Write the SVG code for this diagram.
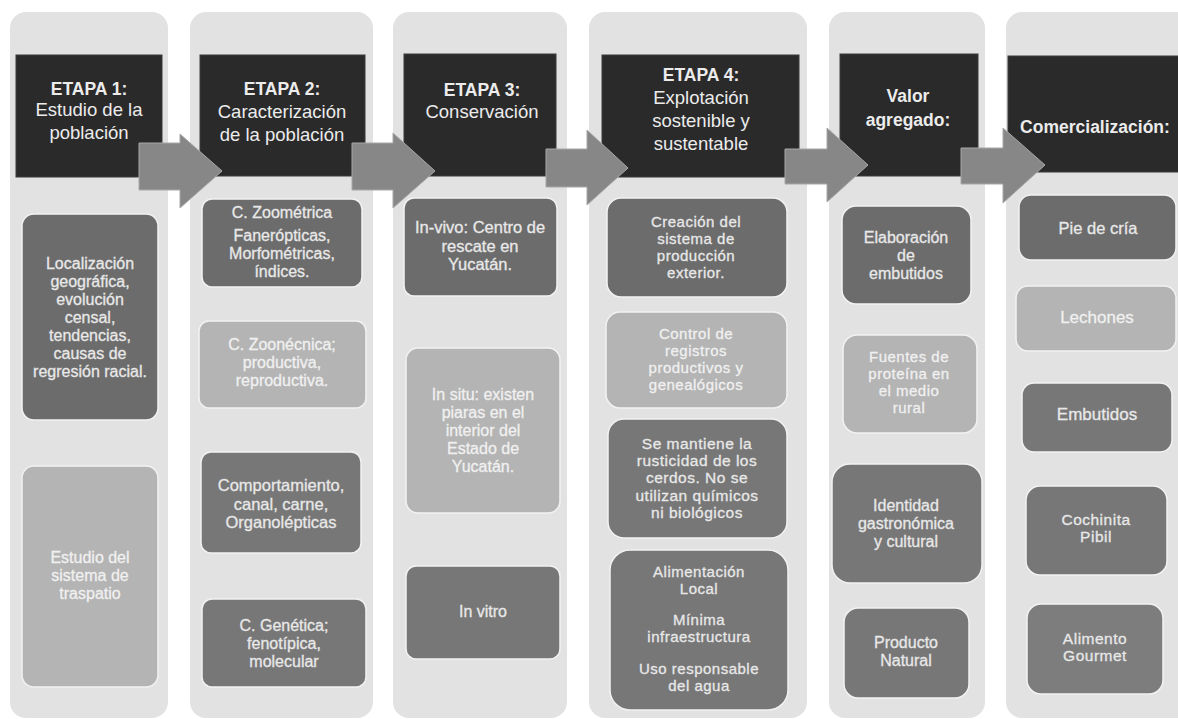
<svg xmlns="http://www.w3.org/2000/svg" width="1178" height="719" viewBox="0 0 1178 719">
<style>
.col{fill:#e2e2e2}
.hdr{fill:#2a2a2a;stroke:#3a3a3a;stroke-width:1}
.dk{fill:#6c6c6c;stroke:#f2f2f2;stroke-width:1.5}
.md{fill:#777777;stroke:#f2f2f2;stroke-width:1.5}
.lt{fill:#b4b4b4;stroke:#f2f2f2;stroke-width:1.5}
.arr{fill:#878787;stroke:#a8a8a8;stroke-width:1}
text{font-family:"Liberation Sans",Arial,sans-serif;text-anchor:middle}
.ht{fill:#ececec;font-size:18.5px}
.hb{font-weight:bold;font-size:17.5px}
.bt{fill:#e8e8e8;font-size:16px;stroke:#e8e8e8;stroke-width:0.3}
.lt2{fill:#f0f0f0;font-size:16px;stroke:#f0f0f0;stroke-width:0.3}
.ls{letter-spacing:0.5px}
</style>
<rect width="1178" height="719" fill="#ffffff"/>
<g id="columns">
<rect class="col" x="10" y="12" width="158" height="706" rx="16"/>
<rect class="col" x="190" y="12" width="183" height="706" rx="16"/>
<rect class="col" x="393" y="12" width="174" height="706" rx="16"/>
<rect class="col" x="589" y="12" width="218" height="706" rx="16"/>
<rect class="col" x="829" y="12" width="156" height="706" rx="16"/>
<rect class="col" x="1006" y="12" width="190" height="706" rx="16"/>
</g>
<g id="h1"><rect class="hdr" x="16" y="55" width="146" height="122"/>
<text class="ht" x="89" y="95"><tspan class="hb" x="89">ETAPA 1:</tspan><tspan x="89" y="116">Estudio de la</tspan><tspan x="89" y="139">población</tspan></text></g>
<g id="h2"><rect class="hdr" x="200" y="55" width="165" height="121"/>
<text class="ht" x="282" y="95"><tspan class="hb" x="282">ETAPA 2:</tspan><tspan x="282" y="118">Caracterización</tspan><tspan x="282" y="141">de la población</tspan></text></g>
<g id="h3"><rect class="hdr" x="404" y="54" width="152" height="122"/>
<text class="ht" x="482" y="96"><tspan class="hb" x="482">ETAPA 3:</tspan><tspan x="482" y="118">Conservación</tspan></text></g>
<g id="h4"><rect class="hdr" x="602" y="55" width="197" height="122"/>
<text class="ht" x="701" y="81"><tspan class="hb" x="701">ETAPA 4:</tspan><tspan x="701" y="104">Explotación</tspan><tspan x="701" y="127">sostenible y</tspan><tspan x="701" y="150">sustentable</tspan></text></g>
<g id="h5"><rect class="hdr" x="840" y="54" width="138" height="122"/>
<text class="ht hb" x="908" y="102"><tspan x="908">Valor</tspan><tspan x="908" y="126">agregado:</tspan></text></g>
<g id="h6"><rect class="hdr" x="1008" y="56" width="175" height="116"/>
<text class="ht hb" x="1095" y="133">Comercialización:</text></g>

<g id="b1a"><rect class="dk" x="22" y="214" width="136" height="206" rx="12"/>
<text class="bt" x="90" y="269"><tspan x="90">Localización</tspan><tspan x="90" dy="18">geográfica,</tspan><tspan x="90" dy="18">evolución</tspan><tspan x="90" dy="18">censal,</tspan><tspan x="90" dy="18">tendencias,</tspan><tspan x="90" dy="18">causas de</tspan><tspan x="90" dy="18">regresión racial.</tspan></text></g>
<g id="b1b"><rect class="lt" x="22" y="466" width="136" height="221" rx="12"/>
<text class="lt2" x="90" y="563"><tspan x="90">Estudio del</tspan><tspan x="90" dy="18">sistema de</tspan><tspan x="90" dy="18">traspatio</tspan></text></g>

<g id="b2a"><rect class="dk" x="202" y="199" width="160" height="88" rx="10"/>
<text class="bt" x="282" y="218"><tspan x="282">C. Zoométrica</tspan><tspan x="282" y="241">Fanerópticas,</tspan><tspan x="282" y="259">Morfométricas,</tspan><tspan x="282" y="277">índices.</tspan></text></g>
<g id="b2b"><rect class="lt" x="199" y="321" width="167" height="87" rx="10"/>
<text class="lt2" x="282" y="350"><tspan x="282">C. Zoonécnica;</tspan><tspan x="282" dy="18">productiva,</tspan><tspan x="282" dy="18">reproductiva.</tspan></text></g>
<g id="b2c"><rect class="md" x="201" y="452" width="160" height="101" rx="10"/>
<text class="bt" x="281" y="491" style="font-size:16.5px"><tspan x="281">Comportamiento,</tspan><tspan x="281" dy="18.5">canal, carne,</tspan><tspan x="281" dy="18.5">Organolépticas</tspan></text></g>
<g id="b2d"><rect class="md" x="202" y="599" width="164" height="88" rx="10"/>
<text class="bt" x="284" y="631"><tspan x="284">C. Genética;</tspan><tspan x="284" dy="18">fenotípica,</tspan><tspan x="284" dy="18">molecular</tspan></text></g>

<g id="b3a"><rect class="dk" x="404" y="198" width="153" height="98" rx="10"/>
<text class="bt" x="480" y="233" style="font-size:16.5px"><tspan x="480">In-vivo: Centro de</tspan><tspan x="480" dy="18.5">rescate en</tspan><tspan x="480" dy="18.5">Yucatán.</tspan></text></g>
<g id="b3b"><rect class="lt" x="406" y="348" width="154" height="165" rx="12"/>
<text class="lt2" x="483" y="400"><tspan x="483">In situ: existen</tspan><tspan x="483" dy="18">piaras en el</tspan><tspan x="483" dy="18">interior del</tspan><tspan x="483" dy="18">Estado de</tspan><tspan x="483" dy="18">Yucatán.</tspan></text></g>
<g id="b3c"><rect class="md" x="406" y="566" width="154" height="93" rx="10"/>
<text class="bt" x="483" y="617">In vitro</text></g>

<g id="b4a"><rect class="dk" x="607" y="198" width="180" height="99" rx="14"/>
<text class="bt ls" x="696" y="227" style="font-size:15px"><tspan x="696">Creación del</tspan><tspan x="696" dy="17">sistema de</tspan><tspan x="696" dy="17">producción</tspan><tspan x="696" dy="17">exterior.</tspan></text></g>
<g id="b4b"><rect class="lt" x="606" y="312" width="181" height="96" rx="14"/>
<text class="lt2 ls" x="696" y="338.5" style="font-size:15px"><tspan x="696">Control de</tspan><tspan x="696" dy="17">registros</tspan><tspan x="696" dy="17">productivos y</tspan><tspan x="696" dy="17">genealógicos</tspan></text></g>
<g id="b4c"><rect class="md" x="608" y="419" width="179" height="119" rx="16"/>
<text class="bt ls" x="697" y="448.5" style="font-size:15.5px"><tspan x="697">Se mantiene la</tspan><tspan x="697" dy="17.4">rusticidad de los</tspan><tspan x="697" dy="17.4">cerdos. No se</tspan><tspan x="697" dy="17.4">utilizan químicos</tspan><tspan x="697" dy="17.4">ni biológicos</tspan></text></g>
<g id="b4d"><rect class="md" x="610" y="550" width="178" height="160" rx="20"/>
<text class="bt ls" x="699" y="577" style="font-size:15px"><tspan x="699">Alimentación</tspan><tspan x="699" y="594">Local</tspan><tspan x="699" y="625">Mínima</tspan><tspan x="699" y="642">infraestructura</tspan><tspan x="699" y="674">Uso responsable</tspan><tspan x="699" y="691">del agua</tspan></text></g>

<g id="b5a"><rect class="dk" x="842" y="206" width="129" height="98" rx="14"/>
<text class="bt" x="906" y="243"><tspan x="906">Elaboración</tspan><tspan x="906" dy="18">de</tspan><tspan x="906" dy="18">embutidos</tspan></text></g>
<g id="b5b"><rect class="lt" x="843" y="335" width="134" height="98" rx="14"/>
<text class="lt2 ls" x="909" y="361.5" style="font-size:15px"><tspan x="909">Fuentes de</tspan><tspan x="909" dy="17">proteína en</tspan><tspan x="909" dy="17">el medio</tspan><tspan x="909" dy="17">rural</tspan></text></g>
<g id="b5c"><rect class="md" x="832" y="464" width="150" height="119" rx="18"/>
<text class="bt" x="906" y="511"><tspan x="906">Identidad</tspan><tspan x="906" dy="18">gastronómica</tspan><tspan x="906" dy="18">y cultural</tspan></text></g>
<g id="b5d"><rect class="md" x="844" y="608" width="125" height="90" rx="14"/>
<text class="bt" x="906" y="648"><tspan x="906">Producto</tspan><tspan x="906" dy="18">Natural</tspan></text></g>

<g id="b6a"><rect class="dk" x="1019" y="195" width="157" height="65" rx="12"/>
<text class="bt" x="1098" y="233.5" style="font-size:16.5px">Pie de cría</text></g>
<g id="b6b"><rect class="lt" x="1016" y="286" width="160" height="65" rx="12"/>
<text class="lt2" x="1097" y="323" style="font-size:17px">Lechones</text></g>
<g id="b6c"><rect class="md" x="1022" y="383" width="150" height="69" rx="12"/>
<text class="bt" x="1097" y="420" style="font-size:17px">Embutidos</text></g>
<g id="b6d"><rect class="md" x="1026" y="486" width="141" height="89" rx="14"/>
<text class="bt ls" x="1096" y="524.5" style="font-size:15.5px"><tspan x="1096">Cochinita</tspan><tspan x="1096" dy="17.4">Pibil</tspan></text></g>
<g id="b6e"><rect class="md" x="1027" y="604" width="136" height="90" rx="14" style="fill:#7d7d7d"/>
<text class="bt ls" x="1095" y="643.5" style="font-size:15.5px"><tspan x="1095">Alimento</tspan><tspan x="1095" dy="17.4">Gourmet</tspan></text></g>

<g id="connectors">
<polygon class="arr" points="139,143 180,143 180,134 222,171 180,208 180,190 139,190"/>
<polygon class="arr" points="352,143 393,143 393,133 435,171 393,208 393,190 352,190"/>
<polygon class="arr" points="546,149 587,149 587,130 628,168 587,205 587,187 546,187"/>
<polygon class="arr" points="785,149 827,149 827,128 868,165 827,202 827,184 785,184"/>
<polygon class="arr" points="961,148 1003,148 1003,128 1045,165 1003,203 1003,184 961,184"/>
</g>
</svg>
